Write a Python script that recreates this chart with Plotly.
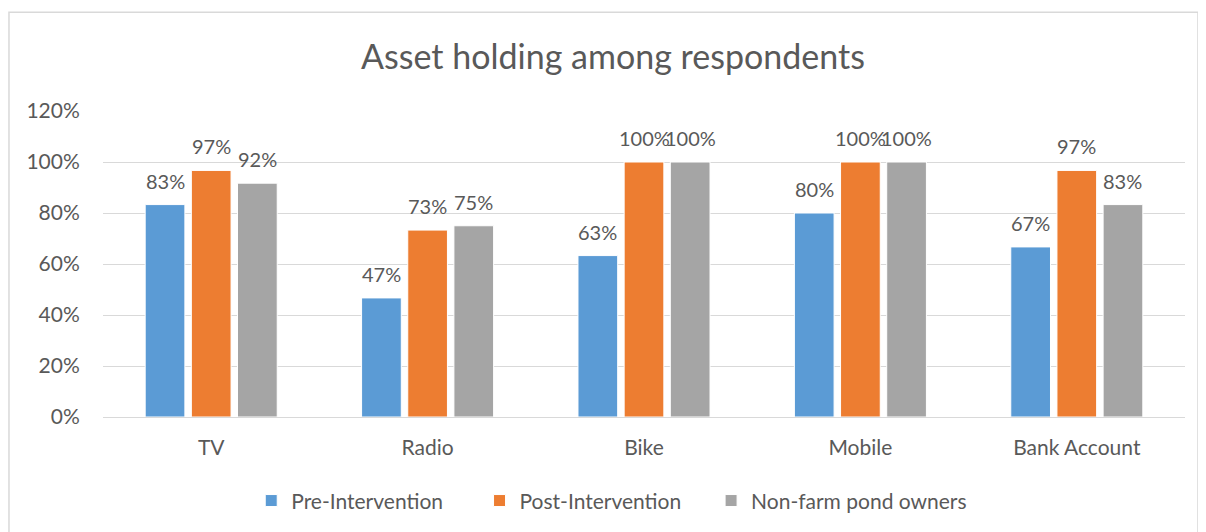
import plotly.graph_objects as go

# data
categories = ["TV", "Radio", "Bike", "Mobile", "Bank Account"]
pre_intervention = [0.833, 0.467, 0.633, 0.80, 0.667]
post_intervention = [0.967, 0.733, 1.0, 1.0, 0.967]
non_farm_owners = [0.917, 0.75, 1.0, 1.0, 0.833]

series = [
    ("Pre-Intervention", pre_intervention, "#5B9BD5"),
    ("Post-Intervention", post_intervention, "#ED7D31"),
    ("Non-farm pond owners", non_farm_owners, "#A5A5A5"),
]

TEXT = "#595959"
FONT = "Lato"
BARGAP = 0.36

# one legend per series so the entries can be spaced like excel does
legend_ids = ["legend", "legend2", "legend3"]
legend_x = [0.137, 0.348, 0.562]

fig = go.Figure()
for (name, vals, color), lg in zip(series, legend_ids):
    fig.add_trace(go.Bar(
        name=name,
        x=categories,
        y=vals,
        legend=lg,
        showlegend=True,
        marker=dict(color=color, line=dict(color="white", width=1)),
    ))

# page body has an 8px margin, so the figure is a bit smaller than the window
W, H = 1198, 524
M = dict(l=95, r=21, t=103, b=114)

fig.update_layout(
    width=W,
    height=H,
    showlegend=True,
    barmode="group",
    bargap=BARGAP,
    bargroupgap=0.14,
    plot_bgcolor="white",
    paper_bgcolor="white",
    font=dict(family=FONT, color=TEXT, size=21),
    title=dict(
        text="Asset holding among respondents",
        x=0.505, xanchor="center",
        y=0.906, yanchor="middle",
        font=dict(size=34, color=TEXT, family=FONT),
    ),
    margin=M,
)

for lg, lx in zip(legend_ids, legend_x):
    fig.update_layout({lg: dict(
        orientation="h",
        x=lx, xanchor="left",
        y=-0.27, yanchor="middle",
        font=dict(size=21, color=TEXT),
        itemwidth=30,
        bgcolor="rgba(0,0,0,0)",
        visible=True,
    )})

# data labels above each bar (excel puts them a little higher than plotly's outside text)
slot = (W - M["l"] - M["r"]) / len(categories) * (1 - BARGAP) / len(series)
for i, (name, vals, color) in enumerate(series):
    dx = (i - 1) * slot
    for cat, v in zip(categories, vals):
        fig.add_annotation(
            x=cat, y=v, xref="x", yref="y",
            text=f"{v:.0%}",
            showarrow=False,
            xshift=dx, yshift=10,
            yanchor="bottom",
            font=dict(size=20, color=TEXT, family=FONT),
        )

fig.update_yaxes(
    range=[0, 1.2],
    dtick=0.2,
    tickformat=".0%",
    showgrid=True,
    gridcolor="#D9D9D9",
    gridwidth=1,
    zeroline=False,
    showline=False,
    ticks="outside",
    ticklen=18,
    tickcolor="rgba(0,0,0,0)",
    tickfont=dict(size=21, color=TEXT),
)
fig.update_xaxes(
    showline=True,
    linecolor="#D9D9D9",
    linewidth=1,
    ticks="outside",
    ticklen=12,
    tickcolor="rgba(0,0,0,0)",
    tickfont=dict(size=21, color=TEXT),
)

# chart frame like the excel border
fig.add_shape(
    type="rect", xref="paper", yref="paper",
    x0=-0.0869, x1=1.012, y0=-0.45, y1=1.3225,
    line=dict(color="#D9D9D9", width=1.5),
    fillcolor="rgba(0,0,0,0)",
    layer="below",
)

fig.write_html("out.html")
